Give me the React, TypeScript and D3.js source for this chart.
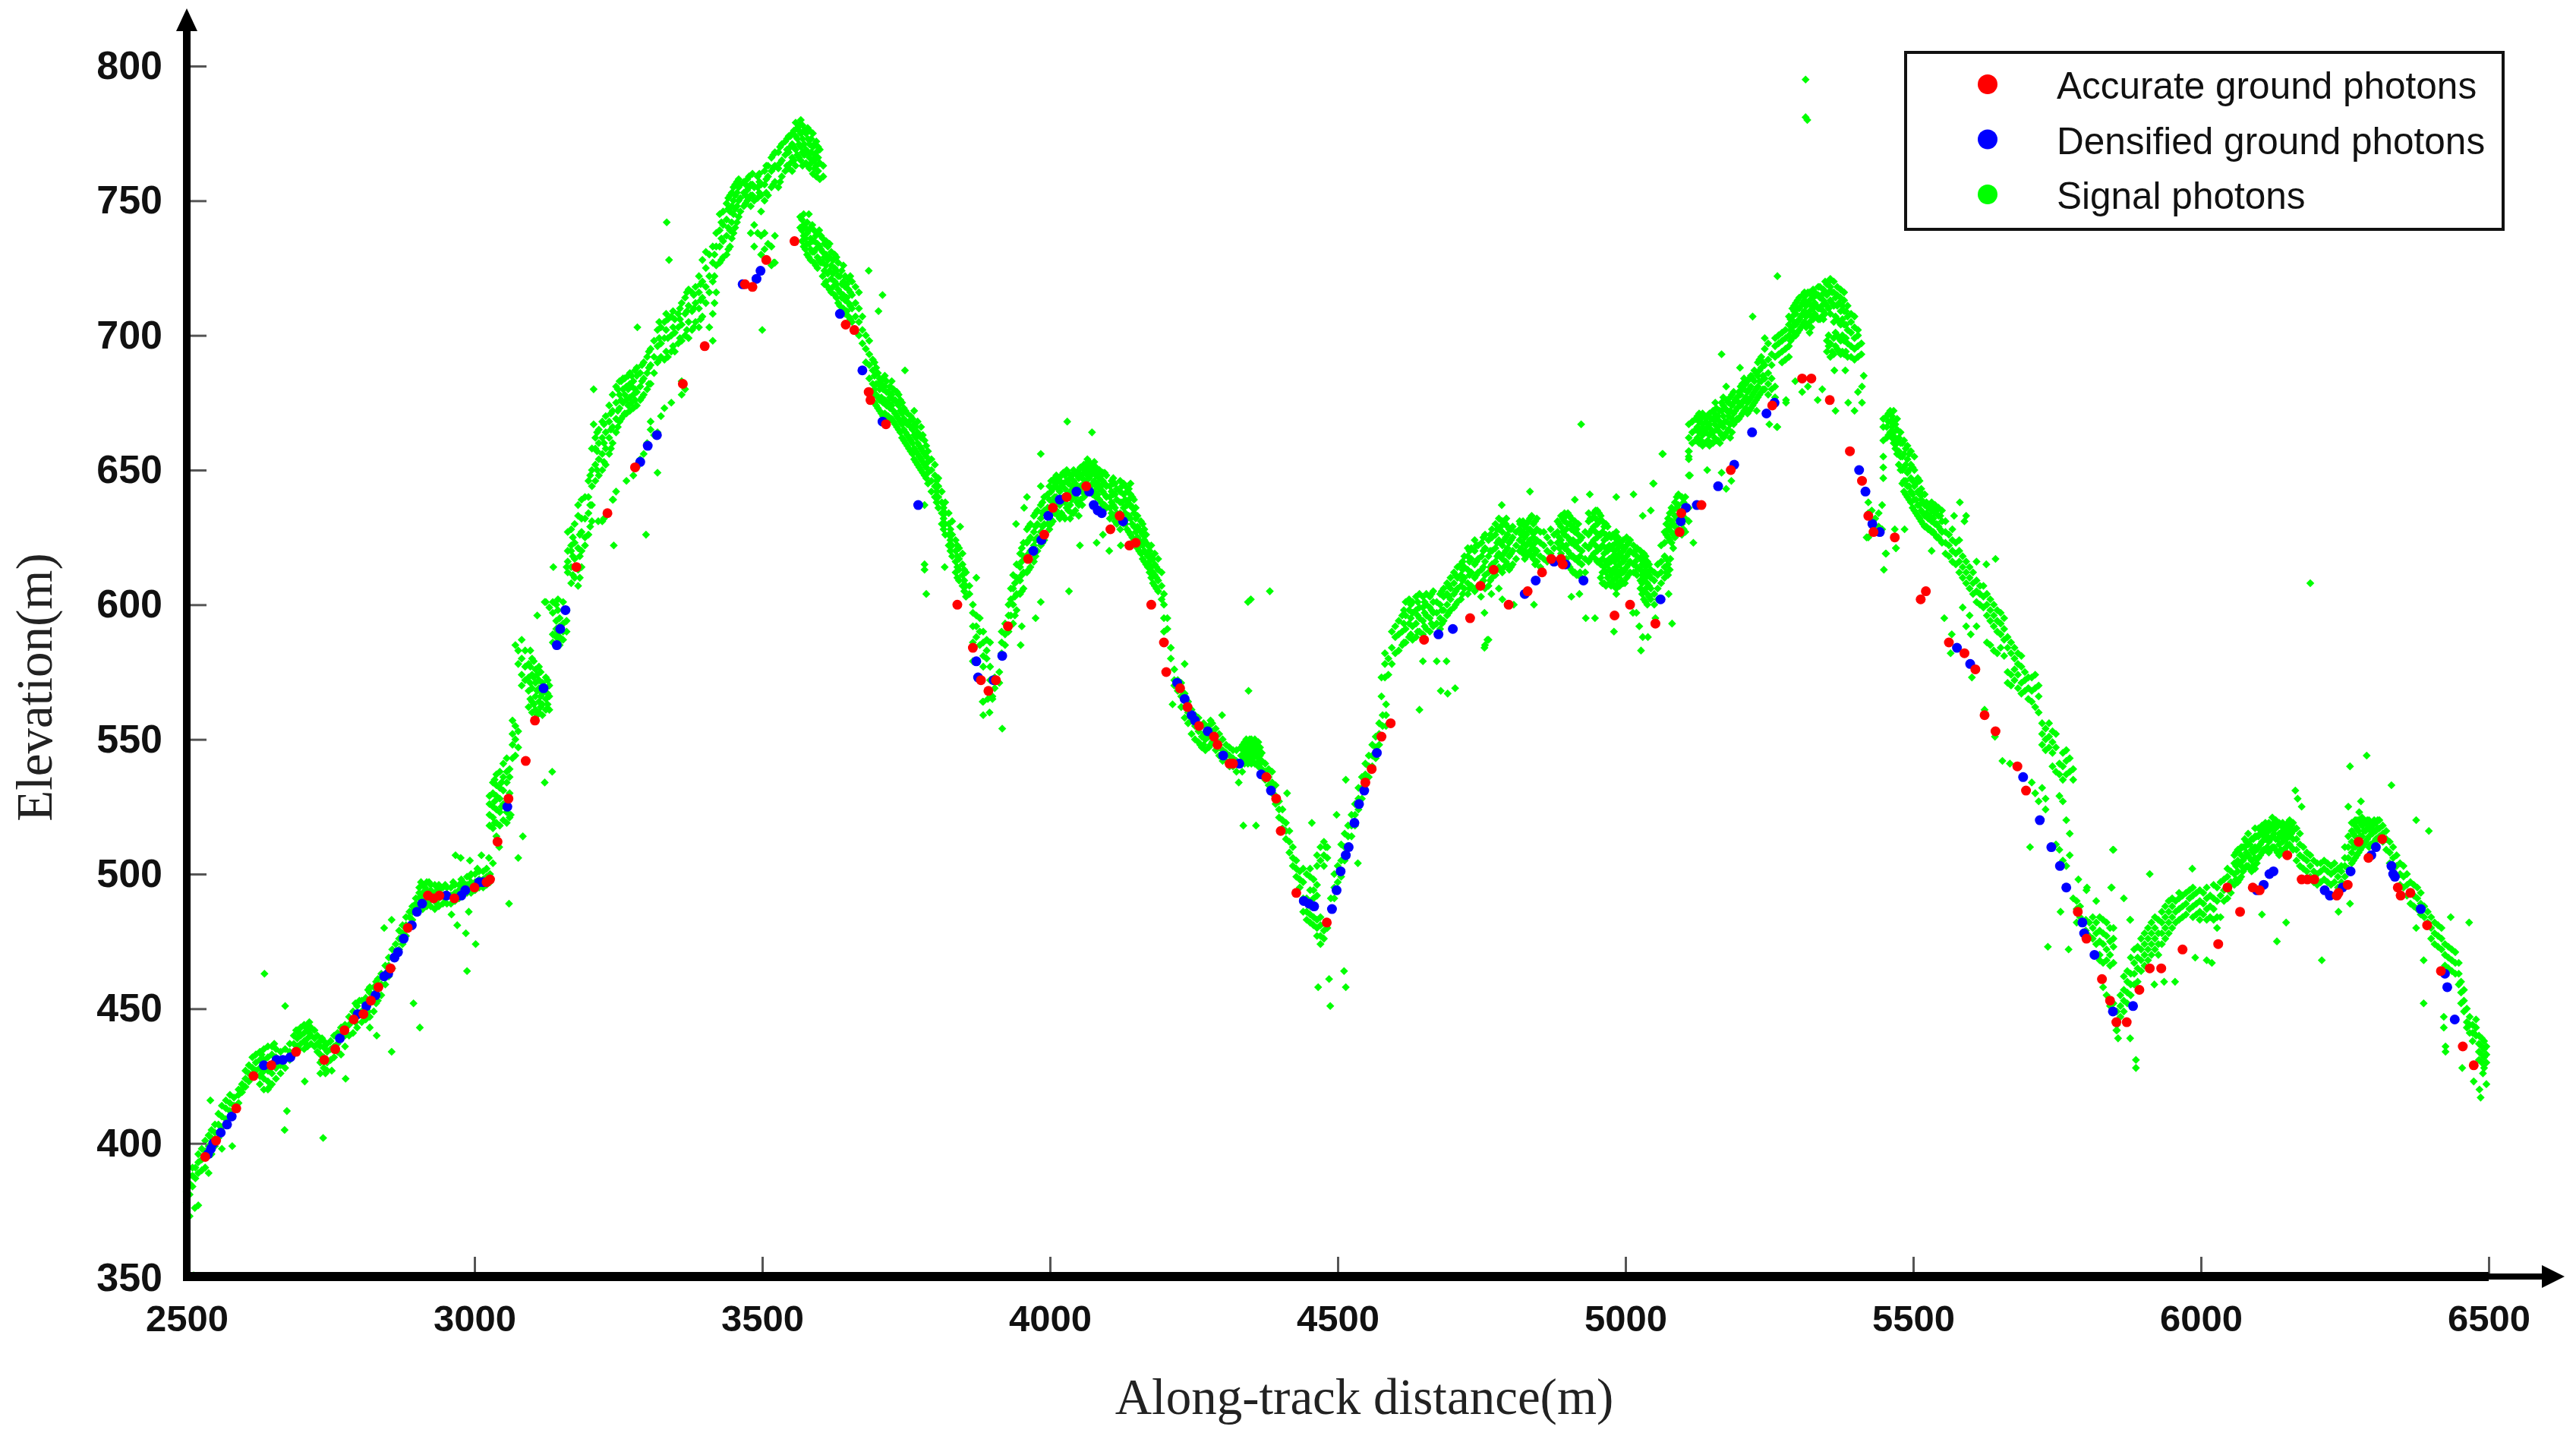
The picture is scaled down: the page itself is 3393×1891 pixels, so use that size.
import { useRef, useEffect } from 'react';
import * as d3 from 'd3';

const WIDTH = 3393;
const HEIGHT = 1891;

const xTicks = [2500, 3000, 3500, 4000, 4500, 5000, 5500, 6000, 6500];
const yTicks = [350, 400, 450, 500, 550, 600, 650, 700, 750, 800];
const legendLabels = ['Accurate ground photons', 'Densified ground photons', 'Signal photons'];
const legendColors = ['#ff0000', '#0000ff', '#00ff00'];

// Signal photons, one row per along-track position: [distance, elevation, elevation, ...]
const signalFoothill: number[][] = [
  [2500,378,382],[2505,381,385,388],[2510,384,388,391],[2515,387,391],[2520,389,393,396],[2526,390,394,398],[2532,391,397,401],[2538,389,399,403],
  [2543,396,402,405],[2549,399,404,407],[2555,402,407,411],[2561,406,410,414],[2568,409,413,416],[2575,412,415,418],[2582,414,417],[2590,415,418,420],
  [2596,419,422],[2602,421,424,427],[2608,423,426,429],[2614,425,428,432],[2620,427,430,433],[2627,422,425,428,431,434],[2634,420,424,427,431,435],
  [2641,420,423,427,432,436],[2648,422,426,433,436],[2655,424,428,432,435],[2663,426,429,434],[2671,428,431,435],[2679,431,434,437],[2686,433,437,440],
  [2692,436,439,442],[2698,437,440,443],[2704,435,438,441,444],[2710,436,439,442,444],[2716,437,440,443],[2722,436,439,442],[2727,434,437,440],
  [2732,430,433,436,438],[2738,428,432,436,438],[2744,427,430,434,437],[2750,431,435,438],[2756,432,436,440],[2762,434,437,441],[2768,433,440,443],
  [2775,436,440,444],[2782,440,444,447],[2789,441,446,449],[2796,443,447,451],[2804,445,449,453],[2811,446,450,454],[2818,447,452,456,458],
  [2825,449,454,458],[2832,453,457,461],[2838,455,459,463],[2845,459,463,466],[2851,462,466,469],[2857,465,469,472],[2863,470,474],[2869,472,476,479],
  [2875,474,478,481],[2881,477,481,484],[2887,480,484,486],[2892,483,486,488],[2898,486,489,491],[2904,488,491,493,495],[2910,487,490,493,496],
  [2917,488,491,494,497],[2924,488,491,494,496],[2931,487,490,493,496],[2938,488,491,494,496],[2945,489,492,495],[2952,489,492,495],[2959,489,492,495],
  [2966,490,493,496],[2973,491,494,496],[2980,492,495,497],[2987,493,496,499],[2994,493,497,500],[3001,494,497,500],[3008,495,498,501],[3015,495,498,501],
  [3021,496,499,502],[3027,497,500],[3026,518,522,526,529],[3032,517,521,525,530,534],[3038,514,519,524,529,533,537],[3044,518,523,528,532,538],
  [3050,520,526,531,536,541],[3056,519,523,534,538,543],[3061,521,530,536,539],[3066,543,548,552,557],[3071,544,550,555,585],[3076,547,553,578,583],
  [3082,570,574,580,587],[3088,572,577,583],[3094,562,568,573,578],[3100,560,564,569,574,580],[3106,561,566,571,576],[3112,560,564,569,572,577],
  [3118,559,563,567,571],[3124,561,565,569,573,601],[3130,561,566,570,599],[3136,586,589,597,601],[3142,585,588,591,594,600],[3148,585,588,592,595],
  [3154,587,590,593,601],[3160,590,594,598,614],
];

const signalRise: number[][] = [
  [3162,612,616,620,627],[3168,608,614,620,622,628],[3174,610,617,623,630],[3180,607,613,621,633,637],[3186,614,620,627,632,639],[3192,622,625,632,640],
  [3198,626,634,640,646],[3204,631,637,644,650,658],[3210,646,652,658,662],[3216,648,654,660,665],[3222,631,650,656,662,668],[3228,652,658,664,670],
  [3234,656,662,668,674],[3240,639,660,666,672,678],[3246,642,664,669,675,681],[3252,668,673,678,683],[3258,670,675,680,684],[3264,646,671,676,681],
  [3270,672,677,682,686],[3276,648,673,678,683],[3282,651,674,679,685,688],[3288,654,676,681,686],[3294,656,678,684,690],[3300,660,680,686,692],
  [3306,665,668,682,689,695],[3312,663,686,692,698],[3318,664,690,696,702],[3324,670,692,697,703],[3330,673,691,699,705],[3336,692,699,706],
  [3342,675,694,700,707],[3348,694,701,706],[3354,697,703,708],[3360,678,683,698,704,712],[3366,680,700,708,714],[3372,699,705,711,717],[3378,702,709,716],
  [3384,705,712,718],[3390,703,710,716,722],[3396,707,714,720,728],[3402,712,718,725,731],[3408,703,716,722,730],[3414,698,708,720,727,733],
  [3420,716,726,733,738],[3426,727,733,739,745],[3432,729,735,741,746],[3438,730,737,743,749],[3444,733,739,746,752],[3450,738,745,750,755],
  [3456,742,748,753,757],[3462,746,751,756],[3468,748,753,757],[3474,750,754,758],[3480,738,748,752,756],[3486,733,741,750,755],[3492,738,751,755,759],
  [3498,730,737,746,752,756],[3504,732,738,750,756,761],[3510,734,752,759,763],[3516,726,733,755,761,766],[3522,727,737,757,763,768],[3528,755,762,768],
  [3534,759,765,771],[3540,761,767,772],[3546,762,768,774],[3552,761,766,771,775],[3558,763,769,774,779],[3564,766,771,776,778],[3570,763,768,773,778],
  [3576,764,769,775],[3582,762,766,771,776],[3588,760,765,770,775],[3594,759,763,768,772],[3600,758,764,769],[3606,759,763],
];

const signalFirstDescent: number[][] = [
  [3566,740,744],[3572,733,737,741,745],[3578,730,734,738,742],[3584,728,732,736,740],[3590,727,731,735,739],[3596,725,729,734,738],[3602,727,732,737],
  [3608,719,724,729,734],[3614,718,723,728,733],[3620,716,721,726,731],[3626,715,720,725,730],[3632,712,717,722,727],[3638,709,714,719,724],
  [3644,708,713,718,722],[3650,707,712,717,721],[3656,705,710,715,720],[3662,707,712,718],[3668,700,705,710,716],[3674,697,702,707],[3680,690,695,700],
  [3686,684,689,693,698],[3692,678,682,687,691],[3698,674,678,682,688],[3704,672,676,680,684],[3710,670,675,680,684],[3716,670,674,679,683],
  [3722,669,673,677,681],[3728,668,672,676,680],[3734,666,670,675,679],[3740,664,668,672,676],[3746,661,665,669,673],[3752,659,663,667,671],
  [3758,657,661,666,670],[3764,654,658,663,667,672],[3770,652,656,660,664,668],[3776,650,654,658,662,666],[3782,648,652,656,661],[3788,645,649,653,657],
  [3794,642,646,650,654],[3800,640,644,648,652],[3806,636,640,644,647],[3812,630,634,638,642],[3818,626,630,634,638],[3824,622,626,630,634],
  [3830,618,622,626,631],[3836,612,616,620,624],[3842,609,613,617,621],[3848,607,611,615,619],[3854,603,607,612],[3860,604,607],[3866,592,597,600],
  [3872,588,592,596],[3878,585,590,595],[3884,577,581,586,590],[3890,580,583,587],[3866,579,586],[3896,577,572,586],[3904,573,569],[3912,571,575],
  [3884,564,559],[3892,565],[3900,566],
];

const signalSecondHill: number[][] = [
  [3916,582,586,590],[3922,585,589,593],[3928,590,596,600],[3932,596,602,606],[3936,593,600,606,611],[3942,598,604,610,615],[3948,604,609,614,619],
  [3954,606,612,618,623],[3960,612,618,623,628],[3966,614,620,625,630],[3972,616,622,627,633],[3978,620,625,630,635],[3984,622,627,632,637],
  [3990,624,630,635,640],[3996,630,636,641],[4002,630,636,642,646],[4008,634,640,644,647],[4014,633,638,643,647],[4020,634,639,644,648],
  [4026,632,638,643,648],[4032,635,640,645,649],[4038,634,639,644,648],[4044,635,640,645,649],[4050,637,642,647,650],[4056,637,642,647,651],
  [4062,641,646,650,652],[4068,643,647,650,653],[4074,641,645,649,652],[4080,640,644,648,651],[4086,639,643,647,650],[4092,637,642,646,649],
  [4098,636,640,644,648],[4104,632,636,640,644],[4110,633,637,641,645,647],[4116,630,634,639,643],[4122,628,634,638,642,646],[4128,630,636,641,645],
  [4134,628,632,637,642],[4140,626,632,637,641,645],[4146,624,629,634,639],[4152,621,625,629,633],[4158,619,623,627,631],[4164,616,620,624,628],
  [4170,614,618,622],[4176,610,614,618,622],[4182,607,611,615,619],[4188,605,609,613,617],[4194,602,607,612],[4198,590,595,600,604],[4204,591,595],
  [4210,584,580],[4216,576,572,570],[4222,568,572],[4228,562,566,571],[4234,558,562,567,578],[4240,556,560,564],[4246,552,557,561],[4252,550,555,559],
  [4258,549,553,558],[4264,547,551,555],[4270,546,550,555],[4276,547,551,555],[4282,549,553,556],[4288,546,550,554],[4294,544,548,552],[4300,542,546,550],
  [4306,542,545,548],[4312,540,544,547],[4318,540,543,546],[4324,538,542,546],
];

const signalHollow: number[][] = [
  [4332,541,544,547],[4338,541,544,547,549],[4344,541,544,547,549],[4350,541,544,547,550],[4356,541,544,547,550],[4362,540,543,546,549],[4368,539,542,545],
  [4374,535,538,541],[4380,533,536,539],[4386,530,534,538],[4392,526,529,533],[4398,521,524,527],[4404,517,520,524],[4410,513,516,519],[4416,508,512,516],
  [4422,503,506,510],[4428,499,502,505],[4434,495,498,501],[4440,486,491,497,502],[4446,483,486,491,500],[4452,482,485,488,494,499,502],[4458,481,484,491,494,498],
  [4464,477,480,483,492,496,503,507],[4470,474,477,481,484,505,510],[4476,476,479,503,507,512],[4482,480,506,510],[4488,487,491],[4494,491,495,500],
  [4500,497,503],[4506,499,505,511],[4512,505,510,515],[4518,510,514,518],[4524,514,518,522],[4530,518,522,526],[4536,524,528,532],[4542,528,532,536],
  [4548,533,537,541],[4554,536,540,544],[4560,540,544,548],[4566,543,547,551],[4572,548,552,556],[4578,551,555,559],[4584,555,559,563],[4576,566,573],
  [4582,578,582,573],[4588,574,580],[4594,578,584,590],[4600,582,588,592],[4606,583,589,594],[4612,585,590,596],
];

const signalPlateau: number[][] = [
  [4618,586,591,596,601],[4624,588,593,598,602],[4630,587,592,597,601],[4636,588,593,598,603],[4642,590,595,599,604],[4648,589,594,599,603],
  [4654,591,596,600,604],[4660,590,595,599,603],[4666,592,597,601,605],[4672,593,597,601],[4678,591,595,600,604],[4684,594,598,603,606],
  [4690,596,600,604,608],[4696,598,602,606,610],[4702,599,604,608,612],[4708,601,606,610,614],[4714,602,607,611,615],[4720,606,610,614,618],
  [4726,604,608,613,618,621],[4732,607,612,617,621],[4738,605,610,615,620,624],[4744,607,612,617,622],[4750,608,613,618,623],[4756,606,611,616,621,626],
  [4762,607,612,618,624],[4768,610,615,620,625,628],[4774,611,616,621,626,630],[4780,614,619,624,628,632],[4786,612,617,622,627,631],[4792,616,620,625,630],
  [4798,613,618,623,628],[4804,615,620,625,629],[4810,617,622,627],[4816,620,624,628,631],[4822,619,623,627,631],[4828,618,622,626,630],[4834,620,624,628,632],
  [4840,617,621,625,630],[4846,616,620,624,628,632],[4852,614,618,623,627],[4858,617,622,627],[4864,616,620,625],[4870,619,623,628],[4876,621,626],
  [4882,623,627,631],[4888,619,624,629,633],[4894,621,626,631,634],[4900,615,620,625,630,634],[4906,613,618,623,628,632],[4912,612,617,622,627,631],
  [4918,611,616,621,626,630],[4924,610,615,620,625],[4930,612,617,622,627],[4936,616,621,626,631,634],[4942,618,623,628,632],[4948,617,622,627,632,635],
  [4954,616,621,626,631,634],[4960,608,612,617,622,627,631],[4966,607,612,616,621,626,630],[4972,608,613,617,622,626],[4978,609,613,618,622,626],
  [4984,606,610,614,618,623,627],[4990,607,611,615,619,623],[4996,608,612,616,620,624],[5002,610,614,618,622,625],[5008,612,616,620,624],[5014,612,615,619,622],
  [5020,611,614,618,621],[5026,606,609,613,617,620],[5032,602,605,609,612,616,619],[5038,600,604,608,612,616],[5044,602,606,610,613],[5050,600,604,609,612],
  [5056,602,606,611,615],[5062,608,612,616,622],[5068,610,614,618,623,627],[5074,611,615,625,628,632],[5080,623,627,631,636],[5086,625,629,633,638],
  [5092,628,633,637,641],[5098,626,630,635,640],[5104,627,632,637,640],[5110,631,636,648,655,657,662,667],[5116,660,664,668],
];

const signalSecondPeak: number[][] = [
  [5122,661,665,669],[5128,660,664,668,671],[5134,659,663,667,671],[5140,660,664,668],[5146,659,663,667,671],[5152,660,664,669,672],[5158,661,665,669,673],
  [5164,660,664,668,672],[5170,662,666,670,674,677],[5176,664,668,672,676],[5182,662,667,672,677],[5188,667,671,675,679],[5194,669,673,677],[5200,670,674,678,681],
  [5206,672,676,680,684],[5212,671,675,679,683],[5218,673,677,681,685],[5224,675,679,683,687],[5230,677,681,685,690],[5236,679,683,688,692],[5242,680,684,689,695,699],
  [5248,678,682,686,691,697],[5254,680,684,689,693],[5260,677,681,692,696,699],[5266,693,697,700],[5272,690,694,698,701],[5278,691,695,699,702],[5284,692,696,700,704,707],
  [5290,699,703,707,710],[5296,700,704,708,712],[5302,702,706,710,714],[5308,704,708,712,715],[5314,703,707,711,715],[5320,701,705,709,713,716],[5326,706,710,714,717],
  [5332,707,711,715],[5338,706,710,714,718],[5344,706,709,713,717],[5350,694,698,711,715,719],[5356,692,697,708,713,718,721],[5362,693,699,705,711,716,720],[5368,695,700,706,711,715,718],
  [5374,693,698,704,709,714,717],[5380,693,698,704,709,713,716],[5386,692,697,702,707,711],[5392,692,696,701,705,708],[5398,691,695,699,703,707],[5404,692,696,700,702],
  [5410,693,697],[5422,625,634,638],[5428,630,635],[5434,628,632],[5440,629,634],[5446,628,637],
];

const signalLastDescent: number[][] = [
  [5448,647,651,655,661,666,669],[5454,662,666,670],[5460,664,668,672],[5466,660,664,668,672],[5472,656,660,665,669],[5478,650,655,660,664],[5484,642,646,651,656,661],
  [5490,640,644,649,654,659],[5496,638,642,647,652,657],[5502,635,639,644,650,655],[5508,633,637,642,647],[5514,631,635,639,643],[5520,629,633,637,641],[5526,628,632,636],
  [5532,627,631,635,638],[5538,626,630,634,637],[5544,625,629,633,636],[5550,623,627,631,635],[5556,619,623,627,631],[5562,618,622,626],[5568,616,620,624,628],[5574,615,619,623],
  [5580,612,616,620,624],[5586,610,614,618,599],[5592,608,612,616,592],[5598,606,610,614,596],[5604,604,608,612],[5610,601,605,609,592],[5616,600,604,607],[5622,599,603,607],
  [5628,596,600,604,586],[5634,594,598,602,585],[5640,592,596,600,583],[5646,590,594,598,582],[5652,589,593,597,584],[5658,587,591,595,581],[5664,584,588,575,571],
  [5670,582,586,574,570],[5676,580,584,576,572],[5682,578,582,574,569],[5688,577,581,571,567],[5694,575,568,572],[5700,573,569,565],[5706,573,568,564,534],[5712,574,569,562,530],
  [5718,570,566,560,527],[5724,556,552,548,532],[5730,554,550,546,528,524],[5736,556,551,547],[5742,553,549,545,540],[5748,552,547,538,511],[5754,541,537,529,509],[5760,545,540,535,527,505],
  [5766,546,542,537,520,503],[5772,543,538,515,507],[5778,539,535,491],[5784,490,487,482],[5790,488,484],[5800,483,479],[5806,482,477],[5812,484,480,476],[5818,482,478,474,490],
  [5824,484,479,475,470,468],[5830,483,478,474,467,458],[5836,482,477,472,468,455],[5842,480,475,470,466,451],[5848,480,476,473,467,452],[5854,444,442,449],[5860,447,451,455],
  [5866,449,453,457,462],[5872,452,456,460,464],[5878,455,459,463,469],[5884,459,463,467,472],[5890,460,465,469,473],[5896,464,468,472,476],[5902,466,470,474,478],[5908,468,472,476,480],
  [5914,470,474,478,482],[5920,472,476,480,484],[5926,470,474,478,483],[5932,474,478,482,486],[5938,476,480,484,488],[5944,478,482,486,490],[5950,480,484,488,491],[5956,482,486,490],
  [5962,483,487,491,493],[5968,484,488,492],[5974,485,489,493],[5980,487,491,494],[5986,484,488,492,495],[5992,485,489,493],[5998,483,486,490,494],[6004,485,489,493],
  [6010,483,487,491,495],[6016,484,488,492],[6022,483,487,491,496],[6028,480,484,490,495],[6034,484,492,497],[6040,490,494,498],[6046,491,495,499,502],[6052,493,497,501],
  [6058,496,500,504,507],[6064,497,501,505,509],[6070,499,503,507,510],[6076,502,506,510,513],[6082,503,507,511,515],[6088,501,505,509,513],[6094,502,506,510,514,517],
  [6100,506,510,514,517],[6106,508,512,516,518],[6112,509,513,516,519],[6118,508,512,516,519],[6124,510,514,517,521],[6130,509,513,517,520],[6136,507,511,515,519],
  [6142,508,512,516,519],[6148,510,513,516,518],[6154,511,514,517,520],[6160,509,513,516,519],[6166,505,509,513,517],[6172,503,507,511,515],[6178,502,506,510],
  [6184,501,505,508],[6190,499,503,507],[6196,497,501,505],[6202,496,500,504],[6208,497,501,504],[6214,498,502,505],[6220,497,501,504],[6226,496,500,503],[6232,497,501,504],
  [6238,495,499,502],[6244,497,501,503],[6250,499,503,506,510],[6256,502,506,510,514],[6262,504,508,512,516,519],[6268,506,510,514,518,520],[6274,508,512,516,520],
  [6280,510,514,518,521],[6286,512,516,519],[6292,510,514,518,520],[6298,511,515,518],[6304,513,516,519],[6310,514,517,520],[6316,512,515,518],[6322,509,513,516],
  [6328,504,508,512],[6334,502,506,510],[6340,499,503,507],[6346,496,500,504],[6352,495,499,503],[6358,492,496,500],[6364,489,493,497],[6370,488,492,496],[6376,487,491,495],
  [6382,485,489,493],[6388,484,488],[6394,482,486],[6400,476,480,484],[6406,474,478,482],[6412,473,477,481],[6418,472,476,480],[6424,466,470,474],[6430,465,469,473],
  [6436,464,468,472],[6442,463,467,471],[6448,459,463,467],[6452,452,456,460],[6457,449,453,457],[6462,443,445,450],[6467,441,444,447],[6472,438,441,444],[6478,440,443,446],
  [6483,431,434,437,440],[6488,430,433,436,439],[6492,428,432,435,438],[6496,430,433,436],
];

// Second pass over the dense stretches, where the band reads as solid and ragged
const signalInfill: number[][] = [
  [2630,426,433],[2644,429,421],[2652,430,437],[2695,441,435],[2707,443,437],[2713,441,445],[2735,431,439],[2741,426,435],[2793,445,452],[2815,449,457],[2829,452,460],
  [2907,492,497],[2914,489,495],[2921,490,497],[2935,489,495],[2949,491,496],[2963,492,497],[2977,494,498],[2991,495,499],[3005,496,502],[3035,519,527,535],[3047,525,534],
  [3097,565,571,577,583],[3103,563,573,579],[3109,559,568,574],[3115,562,566,575],[3127,563,567,572],[3145,586,590,598],[3171,611,618,625],[3183,610,618,626],[3201,629,637,648],
  [3213,650,657,664],[3225,653,660,667],[3237,658,665,671],[3249,666,672,680],[3255,669,676,683],[3261,671,678,684],[3267,674,680,685],[3273,675,681,685],[3279,676,680,687],
  [3291,677,683,689],[3303,682,688,694],[3321,691,699,705],[3333,694,702,708],[3345,696,703,709],[3357,699,706,710],[3369,702,709,716],[3381,703,710,715],[3393,706,713,719],
  [3417,712,722,730],[3429,728,736,742],[3441,732,740,747,751],[3447,736,742,748,753],[3453,740,747,752,756],[3459,744,750,755,758],[3471,749,752,756],[3477,751,755,759],
  [3483,752,756,760],[3495,753,757,760],[3507,753,758,763],[3519,756,762,767],[3531,757,764,770],[3543,763,769,773],[3549,764,770,774],[3555,765,770,776],[3561,767,773,777],
  [3567,765,770,775,780],[3573,767,771,776],[3579,763,768,773,777],[3585,764,768,773],[3591,762,767,771,765],[3597,761,766,770],[3569,735,739,743],[3575,732,736,740],
  [3581,729,734,739,745],[3587,731,735,741],[3593,726,732,737],[3599,728,733,739],[3605,722,727,731,736],[3611,720,726,730,735],[3617,717,724,729,734],[3623,718,723,728],
  [3629,714,719,724,729],[3635,711,716,722],[3641,710,715,720,726],[3647,709,714,719],[3653,706,711,716,722],[3695,675,680,685,690],[3701,673,677,682,686],[3707,671,677,682],
  [3713,671,676,681,685],[3719,670,675,679],[3725,669,674,678,683],[3731,667,671,676],[3737,665,669,674,678],[3743,662,667,671,675],[3749,660,664,668,672],[3755,658,662,668],
  [3761,656,660,665,669],[3767,653,657,662,666],[3773,651,655,659,663],[3779,649,653,657,663],[3785,647,651,655,659],[3803,638,642,646],[3815,628,632,636],[3827,620,624,628],
  [3839,610,614,618,622],[3851,605,609,613],[3939,596,603,608],[3951,605,611,616,621],[3963,613,619,624,629],[3975,618,624,629,634],[3987,623,629,634,638],[3999,628,633,639,644],
  [4005,631,638,643,646],[4011,635,640,645,648],[4017,632,637,642,646],[4023,633,640,645,649],[4029,636,641,646,650],[4035,637,642,647],[4041,634,641,646,650],[4047,638,643,648],
  [4053,639,644,648,651],[4059,640,645,649,652],[4065,644,648,651,654],[4071,644,648,651],[4077,642,646,650,653],[4083,641,645,649],[4089,638,644,648],[4095,637,641,645,649],
  [4107,634,638,642,646],[4113,631,636,641,645],[4125,632,638,644],[4131,630,634,639,644],[4137,627,633,639,643],[4143,625,630,636,640],[4149,622,627,632,636],[4155,620,624,628],
  [4161,617,622,626,630],[4167,615,619,623,626],[4173,612,616,620],[4179,608,612,617],[4185,606,610,614],[4267,548,552,556],[4279,548,552,557],[4335,542,546,548],[4341,543,546,550],
  [4347,542,545,548,550],[4353,543,546,549],[4359,541,545,548],[4365,541,544,547],[4615,586,593,598],[4627,589,595,600],[4639,590,596,601],[4651,592,597,601],[4663,593,598,604],
  [4681,593,598,605],[4693,597,603,607],[4705,600,605,611],[4717,604,609,613,616],[4729,606,611,616,620],[4741,606,611,616,622],[4753,609,614,620,625],[4765,609,614,620,626],
  [4777,613,618,623,628],[4783,613,618,623,629],[4789,614,619,624,630],[4795,615,621,626,629],[4801,614,619,624,628],[4819,621,626,630],[4825,617,620,625,629],[4831,619,623,628,631],
  [4837,618,622,627,633],[4843,615,619,623,627,631],[4885,621,625,630],[4891,622,627,632],[4897,617,622,628,633],[4903,614,619,624,630,633],[4909,612,618,624,629],[4915,611,617,623,628],
  [4921,612,618,624],[4939,617,622,627,632],[4945,619,624,629,634],[4951,616,620,625,630,635],[4957,610,615,621,626,633],[4963,608,614,619,624,629],[4969,610,615,620,625,629],
  [4975,607,611,616,621,625],[4981,607,612,616,620,625],[4987,608,612,617,621,625],[4993,609,613,618,622],[4999,608,613,617,621],[5005,611,615,619,623],[5017,612,616,620],
  [5029,604,608,611,615,618],[5035,601,606,610,614,618],[5041,603,607,611,615],[5071,612,617,626,630],[5077,613,624,629,634],[5083,626,630,635],[5089,627,632,636,640],[5101,628,632,638],
  [5125,662,666,670],[5131,661,665,669],[5137,660,665,670],[5143,661,666,670],[5149,660,665,669],[5155,662,667,671],[5161,661,666,670],[5167,663,667,672,675],[5173,663,668,673],
  [5179,665,670,675],[5185,664,669,674,678],[5191,668,672,676],[5197,669,675,679],[5203,671,675,680,682],[5209,673,677,682],[5215,672,676,680,684],[5221,674,678,684],[5227,676,680,686],
  [5233,678,683,687,691],[5239,680,685,690],[5287,698,702,706],[5293,701,705,709,711],[5299,701,705,710,713],[5305,703,707,711],[5311,705,709,713,716],[5317,704,708,712,716],
  [5323,703,707,711,715],[5329,708,712,716],[5335,706,710,715,718],[5341,707,711,715],[5347,708,712,716,720],[5353,696,700,710,716,720],[5359,694,712,716],[5365,696,701,707,714],
  [5371,694,699,705,712],[5377,694,700,706,711],[5383,694,699,704,709],[5457,663,668,671],[5463,662,666,670],[5469,658,662,667],[5475,652,657,662],[5481,645,650,655,660],
  [5487,641,646,652,658],[5493,639,644,650,656],[5499,636,641,646,651],[5505,634,639,645],[5511,632,637,641,646],[5517,630,634,638],[5523,629,634,638],[5529,628,633,637],
  [5535,627,632,636],[5541,625,630,635],[5547,624,628,633],[6061,498,503,508],[6067,498,504,509],[6073,501,505,510],[6079,503,508,512],[6085,502,506,511],[6091,503,508,513],
  [6097,504,509,514],[6103,507,511,515],[6109,509,514,518],[6115,510,514,518],[6121,509,513,518],[6127,510,515,519],[6133,508,513,518],[6139,509,514,518],[6145,509,514,517],
  [6151,511,515,519],[6157,510,515,518],[6265,505,510,515,519],[6271,507,512,517,520],[6277,509,514,519],[6283,511,516,520],[6289,513,517,520],[6295,511,516,519],[6301,512,516,520],
  [6307,513,517,520],
];

const signalOutliers: number[][] = [
  [2512,351],[2505,373],[2514,376],[2520,377],[2541,416],[2599,421],[2561,398],[2579,399],[2635,463],[2671,451],[2674,412],[2670,405],[2650,430],[2737,402],
  [2705,423],[2752,427],[2732,426],[2776,424],[2690,442],[2800,453],[2818,443],[2830,440],[2856,483],[2843,480],[2856,434],[2894,452],[2905,443],[2960,485],[2970,481],
  [2985,478],[2990,486],[3002,474],[2987,464],[2967,507],[2976,506],[2992,505],[3012,507],[3025,506],[3032,504],[3043,510],[3060,489],[3063,522],[3084,514],[3076,506],
  [3122,534],[3135,538],[3137,614],[3109,596],[3122,601],[3145,602],[3298,626],[3242,622],[3215,631],[3225,632],[3241,639],[3318,649],[3334,742],[3338,728],[3283,703],
  [3207,680],[3207,667],[3500,702],[3520,727],[3685,724],[3709,715],[3702,709],[3748,687],[3782,637],[3782,615],[3782,613],[3817,614],[3785,604],[3872,610],[3844,629],
  [3917,554],[3895,560],[3900,565],[3883,564],[3949,585],[3951,592],[3975,595],[3984,601],[4033,605],[3941,630],[3955,636],[3960,640],[3984,644],[3984,656],[4030,668],
  [4073,664],[4035,632],[4050,633],[4052,622],[4081,623],[4103,620],[4123,622],[4092,626],[4345,568],[4349,602],[4344,601],[4382,605],[4299,559],[4261,548],[4213,563],
  [4336,518],[4358,518],[4328,534],[4334,538],[4412,530],[4455,519],[4498,522],[4514,535],[4535,504],[4479,510],[4511,464],[4485,461],[4466,458],[4514,458],[4487,451],
  [4642,561],[4648,579],[4672,579],[4689,579],[4679,568],[4691,567],[4704,569],[4756,585],[4762,587],[4755,597],[4760,587],[4755,584],[4785,637],[4793,632],[4817,630],
  [4780,606],[4767,604],[4786,602],[4749,603],[4806,600],[4841,600],[4834,642],[4912,639],[4923,667],[4938,641],[4984,640],[5014,641],[5049,645],[5065,656],[5030,633],
  [5044,635],[5118,623],[5083,621],[5078,617],[5075,604],[5081,593],[5052,595],[5024,592],[4980,590],[5030,588],[5039,588],[5027,583],[5013,597],[5019,597],[4931,595],
  [4947,595],[4906,603],[4920,604],[4984,604],[5110,657],[5112,648],[5110,654],[5142,650],[5167,649],[5184,646],[5175,643],[5156,675],[5175,681],[5228,672],[5279,675],
  [5263,666],[5250,667],[5264,722],[5221,707],[5167,693],[5199,688],[5064,656],[5048,645],[5313,795],[5313,781],[5316,780],[5363,687],[5382,687],[5414,685],[5411,681],
  [5404,679],[5411,675],[5387,675],[5398,672],[5334,676],[5342,680],[5317,681],[5307,679],[5295,683],[5365,672],[5279,676],[5264,666],[5449,613],[5452,619],[5470,621],
  [5485,628],[5468,628],[5419,625],[5470,621],[5453,619],[5516,641],[5532,620],[5581,638],[5592,633],[5589,631],[5571,633],[5610,616],[5627,615],[5643,617],[5554,595],
  [5567,589],[5600,589],[5565,582],[5602,573],[5624,561],[5642,551],[5655,542],[5668,541],[5703,510],[5848,509],[5844,495],[5866,491],[5877,483],[5734,473],[5770,472],
  [5756,486],[5787,498],[5801,494],[5802,495],[5847,509],[5911,500],[5985,502],[5845,495],[5877,483],[6164,531],[6168,528],[6175,525],[6190,608],[6259,540],[6288,544],
  [6331,533],[6256,525],[6275,523],[6278,527],[6374,520],[6396,516],[5936,460],[5955,460],[5919,459],[5990,469],[6010,468],[6019,467],[6148,482],[6132,475],[6210,468],
  [6106,485],[6259,489],[6239,486],[6434,484],[6466,482],[6374,480],[6387,468],[6387,452],[6422,447],[6422,443],[6425,436],[6425,434],[6454,428],[6474,441],[6490,426],
  [6474,423],[6496,422],[6484,420],[6486,417],[5853,442],[5856,439],[5877,439],[5887,431],[5887,428],
];

const accurateX = [2532,2551,2586,2616,2647,2690,2739,2758,2774,2790,2807,2820,2833,2854,2884,2919,2929,2939,2965,3000,3021,3027,3040,3059,3089,3105,3177,3231,3279,3362,3400,3470,3483,3507,3556,3645,3660,3685,3688,3715,3839,3866,3880,3893,3906,3927,3962,3990,4005,4029,4063,4105,4121,4138,4149,4176,4198,4202,4226,4239,4259,4285,4291,4312,4318,4376,4393,4401,4428,4481,4548,4559,4576,4592,4650,4730,4748,4771,4797,4830,4855,4871,4888,4891,4981,5008,5052,5094,5097,5132,5183,5255,5307,5323,5355,5390,5411,5422,5431,5468,5513,5522,5562,5589,5608,5624,5643,5681,5696,5786,5801,5828,5842,5853,5871,5893,5911,5931,5968,6030,6046,6068,6090,6102,6150,6175,6185,6197,6236,6239,6255,6274,6291,6315,6342,6347,6364,6393,6417,6455,6474];
const accurateElev = [395,401,413,425,429,434,431,435,442,446,448,453,458,465,480,492,491,492,491,495,497,498,512,528,542,557,614,634,651,682,696,719,718,728,735,704,702,679,676,667,600,584,572,568,572,592,617,626,636,640,644,628,633,622,623,600,586,575,569,562,555,551,548,541,541,536,528,516,493,482,534,539,551,556,587,595,607,613,600,605,612,617,617,615,596,600,593,627,634,637,650,674,684,684,676,657,646,633,627,625,602,605,586,582,576,559,553,540,531,486,476,461,453,445,445,457,465,465,472,474,495,486,495,494,507,498,498,498,492,493,496,512,506,513,495,492,493,481,464,436,429];

const densifiedX = [2537,2542,2546,2559,2570,2578,2634,2656,2667,2680,2766,2797,2812,2828,2843,2850,2861,2867,2877,2891,2900,2909,2951,2977,2984,3008,3015,3057,3120,3143,3149,3158,3288,3301,3317,3466,3490,3497,3635,3674,3709,3771,3872,3875,3902,3917,3971,3985,3997,4017,4046,4068,4076,4083,4090,4127,4221,4234,4246,4252,4274,4301,4329,4367,4384,4441,4450,4459,4490,4498,4505,4514,4519,4529,4537,4546,4568,4675,4700,4825,4844,4876,4896,4927,5061,5096,5105,5124,5161,5189,5220,5245,5259,5406,5417,5429,5442,5576,5599,5691,5720,5740,5755,5766,5794,5797,5815,5847,5882,6097,6109,6119,6126,6215,6224,6246,6260,6296,6304,6331,6334,6337,6382,6424,6428,6441];
const densifiedElev = [396,398,400,404,407,410,429,431,431,432,439,448,451,455,462,463,469,471,476,481,486,489,492,492,494,497,497,525,569,585,591,598,653,659,663,719,721,724,708,687,668,637,579,573,572,581,620,624,633,639,642,642,637,635,634,631,571,565,559,557,553,544,541,537,531,490,489,488,487,494,501,507,510,519,526,531,545,589,591,604,609,616,615,609,602,631,636,637,644,652,664,671,675,650,642,630,627,584,578,536,520,510,503,495,482,478,470,449,451,494,496,500,501,494,492,495,501,507,510,503,500,499,487,463,458,446];

export default function App() {
  const svgRef = useRef<SVGSVGElement>(null);

  useEffect(() => {
    if (!svgRef.current) return;
    const svg = d3.select(svgRef.current);
    svg.selectAll('*').remove();

    const x = d3.scaleLinear().domain([2500, 6500]).range([246, 3278]);
    const y = d3.scaleLinear().domain([350, 800]).range([1683, 87]);
    const baseY = 1681;

    // signal photons come first so the ground photons sit on top
    const rows = [...signalFoothill, ...signalRise, ...signalFirstDescent, ...signalSecondHill, ...signalHollow, ...signalPlateau, ...signalSecondPeak, ...signalLastDescent, ...signalInfill];
    const signal: [number, number][] = [];
    rows.forEach(([d, ...elevs]) => elevs.forEach((e) => signal.push([d, e])));
    signalOutliers.forEach(([d, e]) => signal.push([d, e]));

    const diamond = d3.symbol(d3.symbolSquare, 56)();
    svg.append('g')
      .attr('fill', legendColors[2])
      .selectAll('path')
      .data(signal)
      .join('path')
      .attr('d', diamond)
      .attr('transform', (d) => `translate(${x(d[0])},${y(d[1])}) rotate(45)`);

    svg.append('g')
      .attr('fill', legendColors[1])
      .selectAll('circle')
      .data(densifiedX)
      .join('circle')
      .attr('cx', (d) => x(d))
      .attr('cy', (_, i) => y(densifiedElev[i]))
      .attr('r', 6.5);

    svg.append('g')
      .attr('fill', legendColors[0])
      .selectAll('circle')
      .data(accurateX)
      .join('circle')
      .attr('cx', (d) => x(d))
      .attr('cy', (_, i) => y(accurateElev[i]))
      .attr('r', 6.5);

    // axes: thin gray inward ticks, heavy black lines with arrow heads
    const xAxis = svg.append('g')
      .attr('transform', `translate(0,${baseY})`)
      .call(d3.axisBottom(x).tickValues(xTicks).tickFormat(d3.format('d')).tickSize(-26).tickPadding(37));
    const yAxis = svg.append('g')
      .attr('transform', `translate(${x(2500)},0)`)
      .call(d3.axisLeft(y).tickValues(yTicks).tickFormat(d3.format('d')).tickSize(-26).tickPadding(32));

    [xAxis, yAxis].forEach((axis, i) => {
      axis.select('.domain').remove();
      axis.selectAll('line').attr('stroke', '#555').attr('stroke-width', 3);
      axis.selectAll('text')
        .attr('font-family', '"Liberation Sans", Arial, sans-serif')
        .attr('font-weight', 700)
        .attr('font-size', i === 0 ? 49 : 52)
        .attr('fill', '#111');
    });

    const axes = svg.append('g').attr('fill', '#000').attr('stroke', '#000');
    axes.append('line').attr('x1', x(2500) - 5).attr('x2', x(6500)).attr('y1', baseY).attr('y2', baseY).attr('stroke-width', 12);
    axes.append('line').attr('x1', x(6500)).attr('x2', 3350).attr('y1', baseY).attr('y2', baseY).attr('stroke-width', 8);
    axes.append('line').attr('x1', x(2500)).attr('x2', x(2500)).attr('y1', baseY + 5).attr('y2', 36).attr('stroke-width', 10);
    axes.append('path').attr('stroke', 'none').attr('d', `M3378,${baseY}L3348,${baseY - 15}L3348,${baseY + 15}Z`);
    axes.append('path').attr('stroke', 'none').attr('d', `M${x(2500)},11L${x(2500) - 14},41L${x(2500) + 14},41Z`);

    // axis titles
    svg.append('text')
      .attr('x', 1797)
      .attr('y', 1862)
      .attr('text-anchor', 'middle')
      .attr('font-family', '"Liberation Serif", "Times New Roman", serif')
      .attr('font-size', 67)
      .attr('fill', '#222')
      .text('Along-track distance(m)');
    svg.append('text')
      .attr('transform', 'translate(68,905) rotate(-90)')
      .attr('text-anchor', 'middle')
      .attr('font-family', '"Liberation Serif", "Times New Roman", serif')
      .attr('font-size', 67)
      .attr('fill', '#222')
      .text('Elevation(m)');

    // legend
    const legend = svg.append('g');
    legend.append('rect')
      .attr('x', 2510)
      .attr('y', 69)
      .attr('width', 787)
      .attr('height', 233)
      .attr('fill', '#fff')
      .attr('stroke', '#111')
      .attr('stroke-width', 4);
    legendLabels.forEach((label, i) => {
      const rowY = 111 + i * 72.5;
      legend.append('circle').attr('cx', 2618).attr('cy', rowY).attr('r', 13).attr('fill', legendColors[i]);
      legend.append('text')
        .attr('x', 2709)
        .attr('y', rowY + 19)
        .attr('font-family', '"Liberation Sans", Arial, sans-serif')
        .attr('font-size', 49.5)
        .attr('fill', '#111')
        .text(label);
    });
  }, []);

  return (
    <svg
      ref={svgRef}
      width={WIDTH}
      height={HEIGHT}
      viewBox={`0 0 ${WIDTH} ${HEIGHT}`}
      style={{ position: 'absolute', left: 0, top: 0, background: '#fff' }}
    />
  );
}
